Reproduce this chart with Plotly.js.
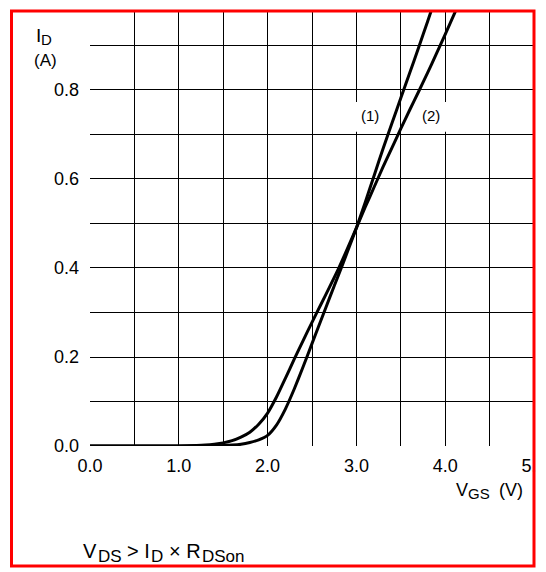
<!DOCTYPE html>
<html>
<head>
<meta charset="utf-8">
<script src="https://cdn.plot.ly/plotly-3.0.1.min.js"></script>
<style>
  html, body { margin: 0; padding: 0; background: #fff; }
  #chart { width: 546px; height: 572px; }
</style>
</head>
<body>
<div id="chart"></div>
<script>
// ---- data ----
const vgs1 = [0, 0.5, 1.0, 1.2, 1.4, 1.5, 1.6, 1.7, 1.8, 1.9, 2.0, 2.1, 2.2, 2.3, 2.4, 2.5, 2.6, 2.7, 2.8, 2.9, 3.0, 3.1, 3.2, 3.3, 3.4, 3.5, 3.6, 3.7, 3.8, 3.9];
const id1  = [0, 0, 0, 0.0003, 0.0006, 0.001, 0.002, 0.004, 0.008, 0.014, 0.024, 0.047, 0.083, 0.128, 0.178, 0.23, 0.282, 0.334, 0.385, 0.437, 0.49, 0.548, 0.608, 0.668, 0.725, 0.782, 0.838, 0.895, 0.953, 1.012];

const vgs2 = [0, 0.5, 1.0, 1.2, 1.3, 1.4, 1.5, 1.6, 1.7, 1.8, 1.9, 2.0, 2.1, 2.2, 2.3, 2.4, 2.5, 2.6, 2.7, 2.8, 2.9, 3.0, 3.1, 3.2, 3.3, 3.4, 3.5, 3.6, 3.7, 3.8, 3.9, 4.0, 4.1, 4.2];
const id2  = [0, 0, 0, 0.001, 0.002, 0.004, 0.007, 0.012, 0.02, 0.031, 0.049, 0.074, 0.11, 0.152, 0.195, 0.237, 0.278, 0.318, 0.358, 0.399, 0.444, 0.49, 0.537, 0.582, 0.627, 0.67, 0.713, 0.755, 0.796, 0.838, 0.881, 0.925, 0.97, 1.015];

const xTickVals = [0, 0.5, 1, 1.5, 2, 2.5, 3, 3.5, 4, 4.5, 5];
const xTickText = ['0.0', ' ', '1.0', ' ', '2.0', ' ', '3.0', ' ', '4.0', ' ', '5.0'];
const yTickVals = [0, 0.1, 0.2, 0.3, 0.4, 0.5, 0.6, 0.7, 0.8, 0.9];
const yTickText = ['0.0', ' ', '0.2', ' ', '0.4', ' ', '0.6', ' ', '0.8', ' '];

const curveLabels = ['(1)', '(2)'];
const labelX = [3.15, 3.84];
const labelY = 0.742;

// axis-title and condition text pieces (main text / subscript)
const yTitleParts = [['I', 19, 'main'], ['D', 15, 'sub'], ['(A)', 17, 'unit']];
const xTitleParts = [['V', 18, 'main'], ['GS', 15, 'sub'], ['(V)', 18, 'main']];
const condParts = [['V', 20, 'main'], ['DS', 17, 'sub'], ['> I', 20, 'main'], ['D', 17, 'sub'], ['× R', 20, 'main'], ['DSon', 17, 'sub']];

const FONT = 'Liberation Sans, Arial, Helvetica, sans-serif';

// plot-area pixel frame (for placing loose text outside the axes)
const PL = 90, PR = 534, PT = 11, PB = 446;
const px2x = p => (p - PL) / (PR - PL);
const px2y = p => (PB - p) / (PB - PT);

function txt(text, size, left, cy, anchor) {
  return { xref: 'paper', yref: 'paper', x: px2x(left), y: px2y(cy), text: text, showarrow: false,
           xanchor: anchor || 'left', yanchor: 'middle', font: { size: size }, borderpad: 0, borderwidth: 0 };
}

const traces = [
  { x: vgs1, y: id1, mode: 'lines', line: { color: '#000', width: 3, shape: 'spline', smoothing: 0.5 }, hoverinfo: 'skip' },
  { x: vgs2, y: id2, mode: 'lines', line: { color: '#000', width: 3, shape: 'spline', smoothing: 0.5 }, hoverinfo: 'skip' }
];

const annotations = [
  { xref: 'x', yref: 'y', x: labelX[0], y: labelY, text: curveLabels[0], showarrow: false, font: { size: 15 } },
  { xref: 'x', yref: 'y', x: labelX[1], y: labelY, text: curveLabels[1], showarrow: false, font: { size: 15 } },
  // I_D (A)
  txt(yTitleParts[0][0], yTitleParts[0][1], 36, 35),
  txt(yTitleParts[1][0], yTitleParts[1][1], 41, 39.5),
  txt(yTitleParts[2][0], yTitleParts[2][1], 45, 60.5, 'center'),
  // V_GS (V)
  txt(xTitleParts[0][0], xTitleParts[0][1], 456, 489.5),
  txt(xTitleParts[1][0], xTitleParts[1][1], 468, 493),
  txt(xTitleParts[2][0], xTitleParts[2][1], 523, 489.5, 'right'),
  // V_DS > I_D × R_DSon
  txt(condParts[0][0], condParts[0][1], 83, 551),
  txt(condParts[1][0], condParts[1][1], 98, 556),
  txt(condParts[2][0], condParts[2][1], 127, 551),
  txt(condParts[3][0], condParts[3][1], 151, 556),
  txt(condParts[4][0], condParts[4][1], 169, 551),
  txt(condParts[5][0], condParts[5][1], 202, 556)
];

const layout = {
  width: 546, height: 572,
  margin: { l: PL, r: 546 - PR, t: PT, b: 572 - PB },
  paper_bgcolor: '#fff', plot_bgcolor: '#fff',
  showlegend: false,
  font: { family: FONT, color: '#000', size: 18 },
  xaxis: {
    range: [0, 5], tickmode: 'array', tickvals: xTickVals, ticktext: xTickText,
    showgrid: true, gridcolor: '#000', gridwidth: 1, zeroline: false, showline: false,
    ticks: '', ticklabelstandoff: 7, ticklabeloverflow: 'allow', tickfont: { size: 18 }, fixedrange: true
  },
  yaxis: {
    range: [0, 0.9775], tickmode: 'array', tickvals: yTickVals, ticktext: yTickText,
    showgrid: true, gridcolor: '#000', gridwidth: 1, zeroline: false, showline: false,
    ticks: '', ticklabelstandoff: 10, ticklabeloverflow: 'allow', tickfont: { size: 18 }, fixedrange: true
  },
  shapes: [
    { type: 'rect', layer: 'between', xref: 'x', yref: 'y', x0: 2.85, x1: 3.3, y0: 0.706, y1: 0.773, fillcolor: '#fff', line: { width: 0 } },
    { type: 'rect', layer: 'between', xref: 'x', yref: 'y', x0: 3.68, x1: 4.2, y0: 0.706, y1: 0.773, fillcolor: '#fff', line: { width: 0 } },
    { type: 'rect', layer: 'above', xref: 'paper', yref: 'paper', x0: px2x(535.5), x1: px2x(560), y0: px2y(600), y1: px2y(0), fillcolor: '#fff', line: { width: 0 } },
    { type: 'rect', layer: 'above', xref: 'paper', yref: 'paper', x0: px2x(11.5), x1: px2x(534), y0: px2y(566), y1: px2y(11), fillcolor: 'rgba(0,0,0,0)', line: { color: '#ff0000', width: 3 } }
  ],
  annotations: annotations
};

Plotly.newPlot('chart', traces, layout, { staticPlot: true, displayModeBar: false });
</script>
</body>
</html>
